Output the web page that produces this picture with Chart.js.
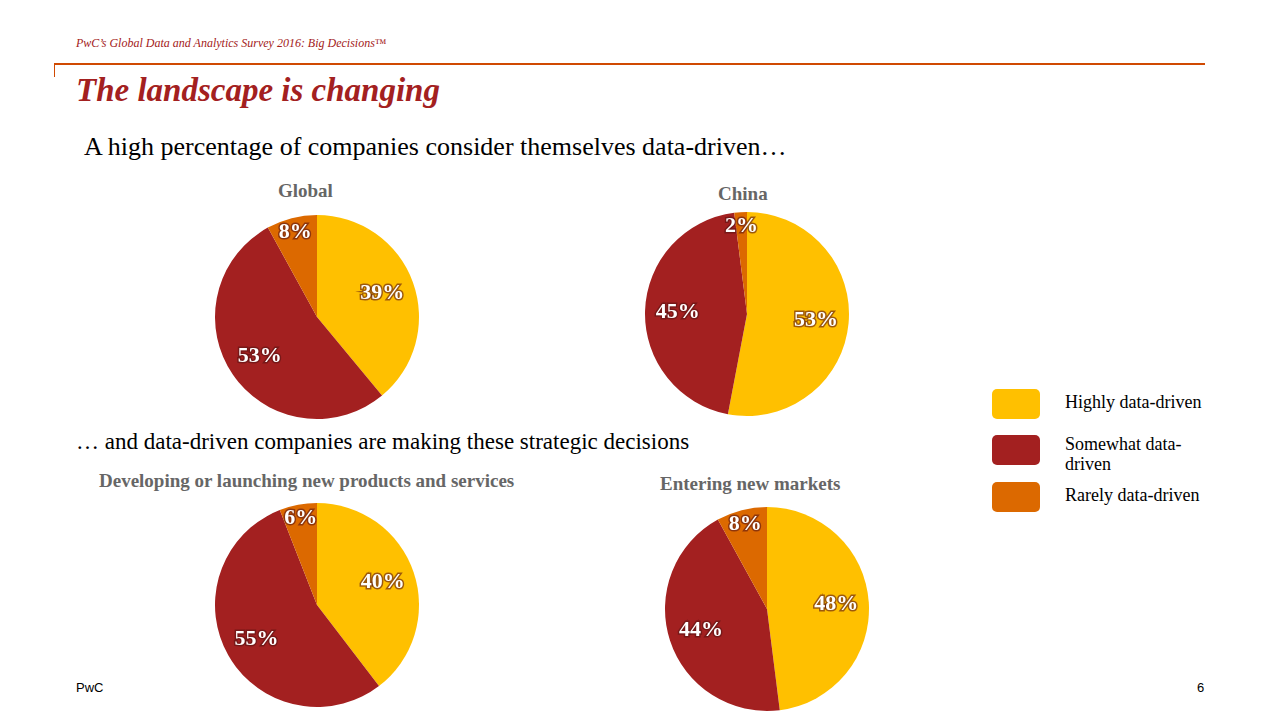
<!DOCTYPE html>
<html><head><meta charset="utf-8">
<script src="https://cdn.jsdelivr.net/npm/chart.js"></script>
<style>
body{margin:0;width:1280px;height:720px;background:#fff;position:relative;overflow:hidden;font-family:"Liberation Serif","DejaVu Serif",serif;}
.t{position:absolute;white-space:nowrap;}
.pie{position:absolute;width:208px;height:208px;}
.lb{position:absolute;width:48px;height:30px;border-radius:5px;left:992px;}
</style></head><body>
<div class="t" style="left:76px;top:36px;font-size:12px;font-style:italic;color:#a32020;">PwC’s Global Data and Analytics Survey 2016: Big Decisions™</div>
<div style="position:absolute;left:54px;top:63px;width:1151px;height:2px;background:#d04a02;"></div>
<div style="position:absolute;left:54px;top:63px;width:1px;height:14px;background:#d04a02;"></div>
<div class="t" style="left:76px;top:72px;font-size:33px;font-weight:bold;font-style:italic;color:#a32020;">The landscape is changing</div>
<div class="t" style="left:84px;top:132px;font-size:26px;color:#000;">A high percentage of companies consider themselves data-driven…</div>
<div class="t" style="left:278px;top:180px;font-size:19px;font-weight:bold;color:#666;">Global</div>
<div class="t" style="left:718px;top:183px;font-size:19px;font-weight:bold;color:#666;">China</div>
<div class="t" style="left:76px;top:429px;font-size:23px;color:#000;">… and data-driven companies are making these strategic decisions</div>
<div class="t" style="left:99px;top:470px;font-size:19px;font-weight:bold;color:#666;">Developing or launching new products and services</div>
<div class="t" style="left:660px;top:473px;font-size:19px;font-weight:bold;color:#666;">Entering new markets</div>
<div class="pie" style="left:213px;top:213px;"><canvas id="c1"></canvas></div>
<div class="pie" style="left:643px;top:210px;"><canvas id="c2"></canvas></div>
<div class="pie" style="left:213px;top:501px;"><canvas id="c3"></canvas></div>
<div class="pie" style="left:663px;top:505px;"><canvas id="c4"></canvas></div>
<div class="lb" style="top:389px;background:#ffc000;"></div>
<div class="lb" style="top:435px;background:#a32020;"></div>
<div class="lb" style="top:482px;background:#dc6900;"></div>
<div class="t" style="left:1065px;top:392px;font-size:18px;">Highly data-driven</div>
<div class="t" style="left:1065px;top:434px;font-size:18px;line-height:20px;">Somewhat data-<br>driven</div>
<div class="t" style="left:1065px;top:485px;font-size:18px;">Rarely data-driven</div>
<div class="t" style="left:76px;top:680px;font-size:13px;font-family:'Liberation Sans',sans-serif;">PwC</div>
<div class="t" style="left:1197px;top:680px;font-size:13px;font-family:'Liberation Sans',sans-serif;">6</div>
<script>
const categories=["Highly data-driven","Somewhat data-driven","Rarely data-driven"];
const globalValues=[39,53,8];
const chinaValues=[53,45,2];
const productsValues=[40,55,6];
const marketsValues=[48,44,8];
const colors=["#ffc000","#a32020","#dc6900"];
const labelPlugin={id:'lbl',afterDatasetsDraw(chart){
  const ctx=chart.ctx;const meta=chart.getDatasetMeta(0);
  meta.data.forEach((arc,i)=>{
    const v=chart.data.datasets[0].data[i];
    const a=(arc.startAngle+arc.endAngle)/2;
    let f=0.68; if(v<10) f=0.86;
    const x=arc.x+Math.cos(a)*arc.outerRadius*f,y=arc.y+Math.sin(a)*arc.outerRadius*f;
    ctx.save();ctx.font='bold 22px "Liberation Serif",serif';ctx.textAlign='center';ctx.textBaseline='middle';
    ctx.lineWidth=3;ctx.strokeStyle='rgba(90,20,20,0.6)';ctx.strokeText(v+'%',x,y);
    ctx.fillStyle='#fff';ctx.fillText(v+'%',x,y);ctx.restore();
  });}};
function mk(id,vals){
  new Chart(document.getElementById(id),{type:'pie',
    data:{labels:categories,datasets:[{data:vals,backgroundColor:colors,borderWidth:0}]},
    options:{responsive:true,maintainAspectRatio:false,animation:false,layout:{padding:2},
      plugins:{legend:{display:false},tooltip:{enabled:false}}},plugins:[labelPlugin]});
}
mk('c1',globalValues);mk('c2',chinaValues);mk('c3',productsValues);mk('c4',marketsValues);
</script>
</body></html>
